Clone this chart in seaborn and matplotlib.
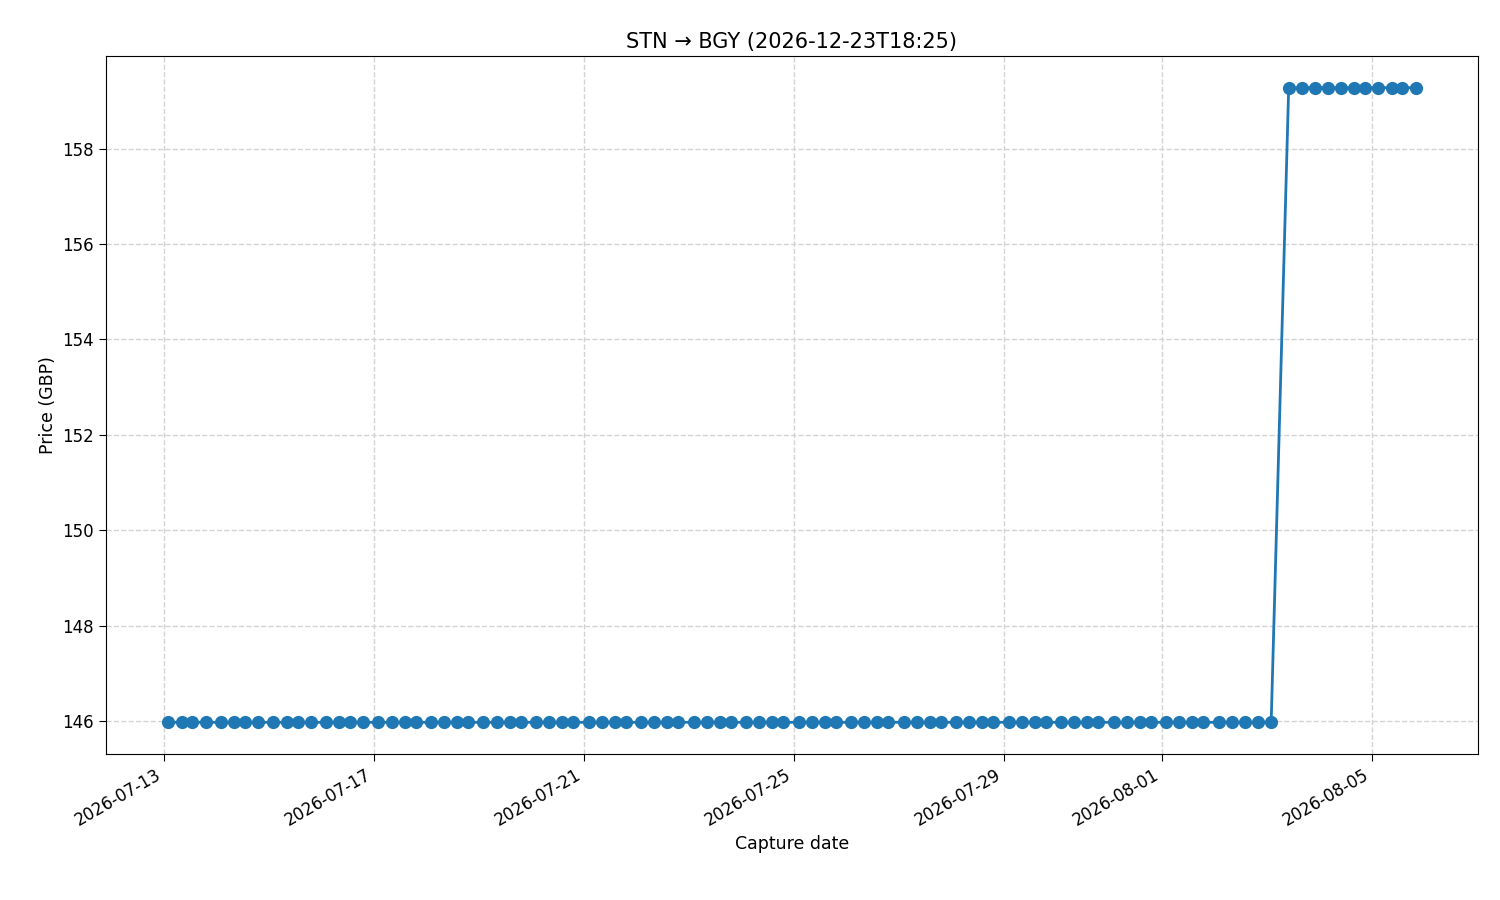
import matplotlib
matplotlib.use("Agg")
import matplotlib.pyplot as plt
import matplotlib.dates as mdates
import seaborn as sns
import pandas as pd

# capture times as hours after 2026-07-13 00:00
hours_low = [2, 8, 13, 19, 26, 32, 37, 43, 50, 56, 61, 67, 74, 80, 85, 91, 98, 104, 110, 115,
             122, 128, 134, 139, 146, 152, 158, 163, 170, 176, 182, 187, 194, 200, 206, 211,
             218, 224, 230, 235, 242, 248, 254, 259, 266, 272, 278, 283, 290, 296, 302, 307,
             314, 320, 326, 331, 338, 344, 350, 355, 362, 368, 374, 379, 386, 392, 398, 403,
             410, 416, 422, 427, 434, 440, 446, 451, 458, 464, 470, 475, 482, 488, 494, 500, 506]
hours_high = [514, 520, 526, 532, 538, 544, 549, 555, 561, 566, 572]
price_low = 145.97
price_high = 159.28

times = [pd.Timestamp("2026-07-13") + pd.Timedelta(hours=h) for h in hours_low + hours_high]
prices = [price_low] * len(hours_low) + [price_high] * len(hours_high)
df = pd.DataFrame({"date": times, "price": prices})

sns.set_style("white")
plt.rcParams["text.color"] = "black"
plt.rcParams["axes.labelcolor"] = "black"
plt.rcParams["xtick.color"] = "black"
plt.rcParams["ytick.color"] = "black"
fig, ax = plt.subplots(figsize=(15, 9), dpi=100)
fig.subplots_adjust(left=0.0707, right=0.9853, top=0.9378, bottom=0.1622)
sns.lineplot(data=df, x="date", y="price", marker="o", markersize=9.5,
             markeredgewidth=0, color="#1f77b4", linewidth=2, ax=ax)
ax.grid(True, linestyle="--", color="#d3d3d3", linewidth=1)
for s in ax.spines.values():
    s.set_color("black")
ax.tick_params(axis="both", which="both", length=5, color="black", labelsize=12, left=True, bottom=True)
ax.xaxis.set_major_formatter(mdates.DateFormatter("%Y-%m-%d"))
ax.set_xticks(pd.to_datetime(["2026-07-13", "2026-07-17", "2026-07-21", "2026-07-25",
                               "2026-07-29", "2026-08-01", "2026-08-05"]))
plt.setp(ax.get_xticklabels(), rotation=30, ha="right")
ax.set_yticks([146, 148, 150, 152, 154, 156, 158])
ax.set_title("STN → BGY (2026-12-23T18:25)", fontsize=15)
ax.set_xlabel("Capture date", fontsize=12.5)
ax.set_ylabel("Price (GBP)", fontsize=12.5)
fig.savefig("out.png")
